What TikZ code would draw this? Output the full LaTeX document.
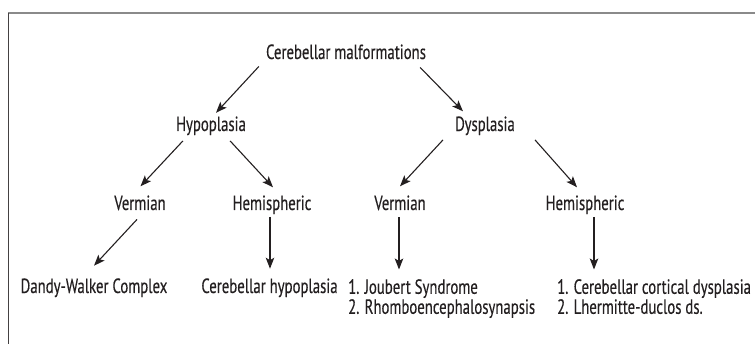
\documentclass[tikz,border=0pt]{standalone}
\usepackage{fontspec}
\setmainfont{PT Sans}[FakeStretch=0.72, FakeBold=0.3]
\usetikzlibrary{arrows.meta,positioning,calc}
\definecolor{framegray}{HTML}{8A8A8A}
\definecolor{inkgray}{HTML}{231F20}
\tikzset{
    lbl/.style={inner sep=0pt, text=inkgray, font=\fontsize{20.5}{20}\selectfont},
    lst/.style={lbl, align=left},
    arr/.style={-{Stealth[length=11pt,width=8.5pt,inset=2.5pt]}, draw=inkgray, line width=1.1pt}
}

\begin{document}
\begin{tikzpicture}[x=1pt,y=-1pt]
    \useasboundingbox (0,0) rectangle (755,344);
    % frame, cut off at right and bottom
    \draw[framegray, line width=2pt] (8,13) -- (755,13);
    \draw[inkgray!85, line width=1pt] (8,13) -- (8,344);

    % levels
    \node[lbl, anchor=base] (root) at (346,59) {Cerebellar malformations};
    \node[lbl, anchor=base] (hypo) at (211,131) {Hypoplasia};
    \node[lbl, anchor=base] (dys) at (485,131) {Dysplasia};
    \node[lbl, anchor=base] (vermL) at (140,210) {Vermian};
    \node[lbl, anchor=base] (hemiL) at (272,210) {Hemispheric};
    \node[lbl, anchor=base] (vermR) at (400,210) {Vermian};
    \node[lbl, anchor=base] (hemiR) at (585,210) {Hemispheric};
    \node[lbl, anchor=base] (dw) at (94,293) {Dandy-Walker Complex};
    \node[lbl, anchor=base] (chypo) at (269.5,293) {Cerebellar hypoplasia};
    \node[lst, anchor=north west] (listR1) at (348,279) {1. Joubert Syndrome\\2. Rhomboencephalosynapsis};
    \node[lst, anchor=north west] (listR2) at (557,279) {1. Cerebellar cortical dysplasia\\2. Lhermitte-duclos ds.};

    % arrows
    \draw[arr] ($(root.south west)+(-7,7)$) -- ($(hypo.north)+(5,-3.5)$);
    \draw[arr] ($(root.south east)+(-6,8)$) -- ($(dys.north west)+(8,-5)$);
    \draw[arr] ($(hypo.south west)+(7,5.5)$) -- ($(vermL.north)+(0.5,-9)$);
    \draw[arr] ($(hypo.south east)+(-16,5.5)$) -- ($(hemiL.north)+(1,-8)$);
    \draw[arr] ($(dys.south west)+(-12,4.5)$) -- ($(vermR.north)+(0,-9)$);
    \draw[arr] ($(dys.south east)+(20,4.5)$) -- ($(hemiR.north)+(-8,-8)$);
    \draw[arr] ($(vermL.south)+(-3,9)$) -- ($(dw.north)+(0,-12.5)$);
    \draw[arr] ($(hemiL.south)+(-2,2.5)$) -- ($(hemiL.south |- chypo.north)+(-2,-9.5)$);
    \draw[arr] ($(vermR.south)+(-1,7)$) -- ($(vermR.south |- listR1.north)+(-1,-9.5)$);
    \draw[arr] ($(hemiR.south)+(9,2.5)$) -- ($(hemiR.south |- listR2.north)+(9,-9.5)$);
\end{tikzpicture}
\end{document}
